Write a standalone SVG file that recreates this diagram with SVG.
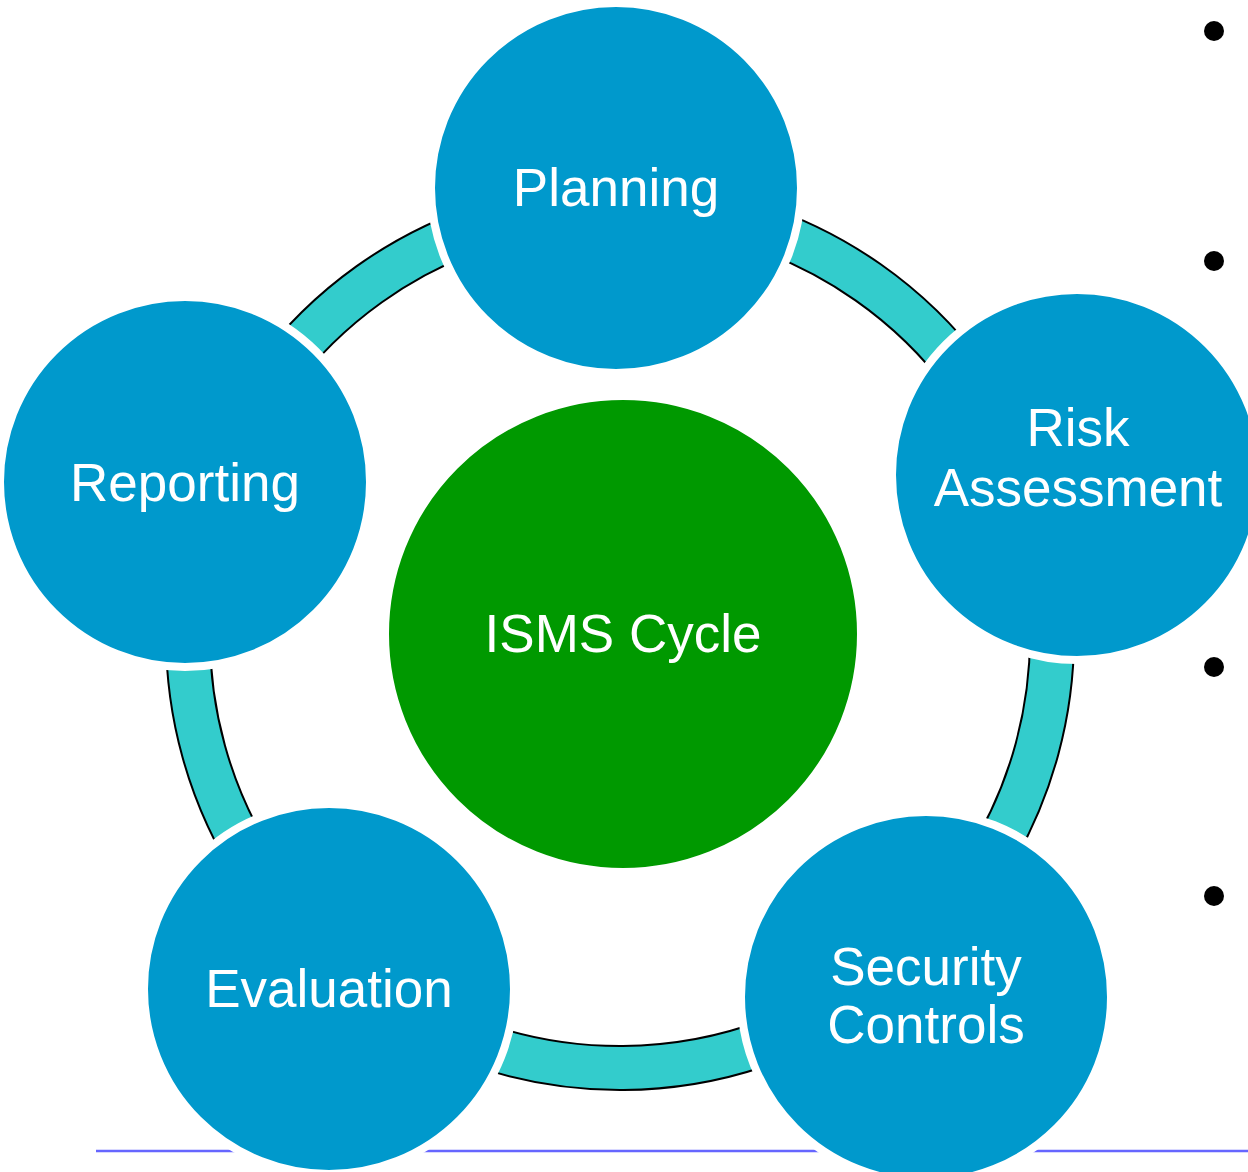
<svg xmlns="http://www.w3.org/2000/svg" width="1248" height="1172" viewBox="0 0 1248 1172">
<style>
.node{fill:#0099CC;stroke:#FFFFFF;stroke-width:8}
.center{fill:#009900;stroke:#FFFFFF;stroke-width:8}
.lbl{fill:#FFFFFF;font-family:"Liberation Sans",Arial,sans-serif;font-size:53px;text-anchor:middle}
.arcOut{fill:none;stroke:#000000;stroke-width:46}
.arcIn{fill:none;stroke:#33CCCC;stroke-width:42}
.bullet{fill:#000000}
</style>
<rect width="1248" height="1172" fill="#FFFFFF"/>
<line x1="96" y1="1151" x2="1248" y2="1151" stroke="#6666FF" stroke-width="2.5"/>
<g id="bullets">
<circle class="bullet" cx="1214" cy="31" r="10"/>
<circle class="bullet" cx="1214" cy="261" r="10"/>
<circle class="bullet" cx="1214" cy="667" r="10"/>
<circle class="bullet" cx="1214" cy="896" r="10"/>
</g>
<g id="connectors">
<path class="arcOut" d="M616.2,204 A432,432 0 0 1 1027.5,492.5"/>
<path class="arcOut" d="M1027.5,492.5 A432,432 0 0 1 899.4,965.5"/>
<path class="arcOut" d="M899.4,965.5 A432,432 0 0 1 345.2,969.3"/>
<path class="arcOut" d="M345.2,969.3 A432,432 0 0 1 212.8,491.8"/>
<path class="arcOut" d="M212.8,491.8 A432,432 0 0 1 616.2,204"/>
<path class="arcIn" d="M616.2,204 A432,432 0 0 1 1027.5,492.5"/>
<path class="arcIn" d="M1027.5,492.5 A432,432 0 0 1 899.4,965.5"/>
<path class="arcIn" d="M899.4,965.5 A432,432 0 0 1 345.2,969.3"/>
<path class="arcIn" d="M345.2,969.3 A432,432 0 0 1 212.8,491.8"/>
<path class="arcIn" d="M212.8,491.8 A432,432 0 0 1 616.2,204"/>
</g>
<g id="isms">
<circle class="center" cx="623" cy="634" r="238"/>
<text class="lbl" x="623" y="652">ISMS Cycle</text>
</g>
<g id="planning">
<circle class="node" cx="616" cy="188" r="185"/>
<text class="lbl" x="616" y="206">Planning</text>
</g>
<g id="risk">
<circle class="node" cx="1077" cy="475" r="185"/>
<text class="lbl" x="1078" y="446">Risk</text>
<text class="lbl" x="1078" y="506">Assessment</text>
</g>
<g id="security">
<circle class="node" cx="926" cy="997" r="185"/>
<text class="lbl" x="926" y="985">Security</text>
<text class="lbl" x="926" y="1043">Controls</text>
</g>
<g id="evaluation">
<circle class="node" cx="329" cy="989" r="185"/>
<text class="lbl" x="329" y="1007">Evaluation</text>
</g>
<g id="reporting">
<circle class="node" cx="185" cy="482" r="185"/>
<text class="lbl" x="185" y="501">Reporting</text>
</g>
</svg>
